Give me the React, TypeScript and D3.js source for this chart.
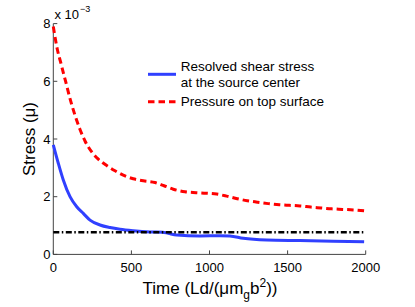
import React, { useEffect } from "react";
import * as d3 from "d3";

const xTicks = [0, 500, 1000, 1500, 2000];
const yTicks = [0, 2, 4, 6, 8];

const pressureT = [0, 26, 49, 64, 81, 107, 139, 171, 203, 246, 288, 342, 395, 459, 512, 576, 651, 709, 768, 843, 914, 978, 1046, 1110, 1178, 1242, 1306, 1376, 1447, 1511, 1579, 1648, 1714, 1782, 1853, 1921, 1990];
const pressureV = [7.9, 7.1, 6.62, 6.3, 5.95, 5.4, 4.82, 4.33, 3.93, 3.55, 3.3, 3.08, 2.9, 2.72, 2.62, 2.55, 2.49, 2.38, 2.26, 2.17, 2.14, 2.12, 2.09, 2.02, 1.93, 1.86, 1.81, 1.76, 1.72, 1.7, 1.68, 1.64, 1.61, 1.58, 1.56, 1.54, 1.51];

const shearT = [0, 32, 64, 107, 150, 192, 235, 299, 363, 427, 512, 619, 700, 736, 790, 939, 1067, 1131, 1216, 1366, 1579, 1792, 1990];
const shearV = [3.8, 3.16, 2.58, 2.0, 1.65, 1.42, 1.19, 1.02, 0.93, 0.87, 0.82, 0.78, 0.77, 0.73, 0.67, 0.64, 0.65, 0.64, 0.56, 0.5, 0.48, 0.46, 0.44];

const refT = [0, 2000];
const refV = [0.77, 0.77];

const FONT = "'Liberation Sans', Arial, Helvetica, sans-serif";

export default function App() {
  useEffect(() => {
    document.body.style.margin = "0";
  }, []);

  const x = d3.scaleLinear().domain([0, 2000]).range([53.3, 365.7]);
  const y = d3.scaleLinear().domain([0, 8]).range([254.4, 23.6]);

  const line = d3
    .line<[number, number]>()
    .x((d) => x(d[0]))
    .y((d) => y(d[1]))
    .curve(d3.curveMonotoneX);

  const pData = pressureT.map((t, i) => [t, pressureV[i]] as [number, number]);
  const sData = shearT.map((t, i) => [t, shearV[i]] as [number, number]);
  const rData = refT.map((t, i) => [t, refV[i]] as [number, number]);

  const axisColor = "#444";

  return (
    <svg width={415} height={307} style={{ display: "block", background: "#fff" }} fontFamily={FONT}>
      <rect x={0} y={0} width={415} height={307} fill="#fff" />
      {/* axes */}
      <line x1={x(0)} x2={x(2000)} y1={y(0)} y2={y(0)} stroke={axisColor} strokeWidth={1} />
      <line x1={x(0)} x2={x(0)} y1={y(0)} y2={y(8)} stroke={axisColor} strokeWidth={1} />
      {xTicks.map((t) => (
        <g key={"xt" + t}>
          <line x1={x(t)} x2={x(t)} y1={y(0)} y2={y(0) - 4} stroke={axisColor} strokeWidth={1} />
          <text x={x(t)} y={272} fontSize={13} textAnchor="middle" fill="#000">
            {t}
          </text>
        </g>
      ))}
      {yTicks.map((v) => (
        <g key={"yt" + v}>
          <line x1={x(0)} x2={x(0) + 4} y1={y(v)} y2={y(v)} stroke={axisColor} strokeWidth={1} />
          <text x={50.5} y={y(v) + 4.6} fontSize={13} textAnchor="end" fill="#000">
            {v}
          </text>
        </g>
      ))}
      {/* exponent */}
      <text x={54.5} y={18.5} fontSize={13} fill="#000">
        x 10
        <tspan fontSize={9} dy={-7} dx={1}>
          −3
        </tspan>
      </text>
      {/* lines */}
      <path d={line(sData) || ""} fill="none" stroke="#3040ff" strokeWidth={3} />
      <path d={line(pData) || ""} fill="none" stroke="#ff0000" strokeWidth={3} strokeDasharray="6.5,4" />
      <path d={line(rData) || ""} fill="none" stroke="#000" strokeWidth={2.5} strokeDasharray="6,2.5,1.5,2.5" />
      {/* legend */}
      <line x1={148} x2={176} y1={74.3} y2={74.3} stroke="#3040ff" strokeWidth={3} />
      <line x1={148} x2={176} y1={101.7} y2={101.7} stroke="#ff0000" strokeWidth={3} strokeDasharray="6.5,4" />
      <text x={180.7} y={71} fontSize={13.5} fill="#000">
        Resolved shear stress
      </text>
      <text x={180.7} y={86.5} fontSize={13.5} fill="#000">
        at the source center
      </text>
      <text x={180.7} y={105.5} fontSize={13.5} fill="#000">
        Pressure on top surface
      </text>
      {/* axis labels */}
      <text x={210} y={293.5} fontSize={17} textAnchor="middle" fill="#000">
        Time (Ld/(μm
        <tspan fontSize={12} dy={5}>g</tspan>
        <tspan dy={-5}>b</tspan>
        <tspan fontSize={12} dy={-7}>2</tspan>
        <tspan dy={7}>))</tspan>
      </text>
      <text
        transform={`translate(35,139) rotate(-90)`}
        fontSize={17}
        textAnchor="middle"
        fill="#000"
      >
        Stress (μ)
      </text>
    </svg>
  );
}
